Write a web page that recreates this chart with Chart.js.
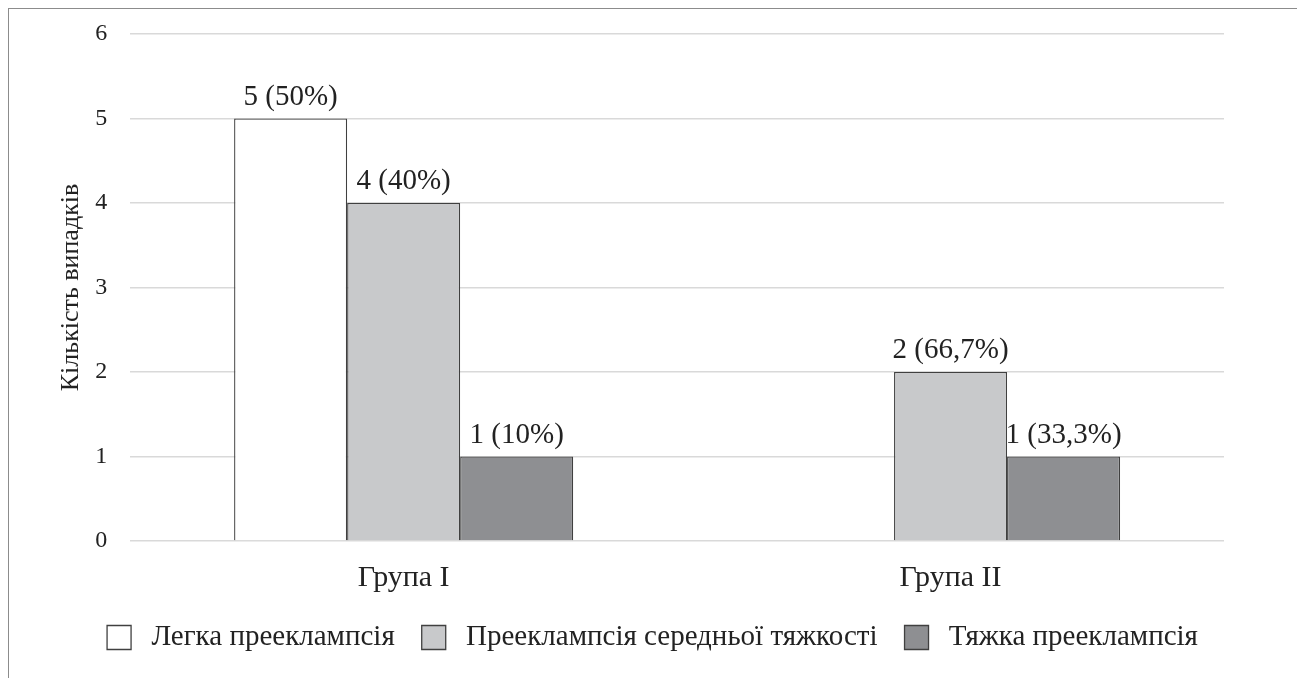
<!DOCTYPE html>
<html>
<head>
<meta charset="utf-8">
<script src="https://cdn.jsdelivr.net/npm/chart.js@4"></script>
<style>
  html, body { margin: 0; padding: 0; background: #fff; overflow: hidden; }
  #frame { position: absolute; left: 8px; top: 8px; width: 2000px; height: 2000px;
           border-left: 1.5px solid #8c8c8c; border-top: 1.5px solid #8c8c8c; }
  #wrap { position: absolute; left: 0; top: 0; width: 1297px; height: 678px; }
</style>
</head>
<body>
<div id="frame"></div>
<div id="wrap"><canvas id="c" width="1297" height="678"></canvas></div>
<script>
const categories = ["Група I", "Група II"];
const seriesNames = ["Легка прееклампсія", "Прееклампсія середньої тяжкості", "Тяжка прееклампсія"];
const mild = [5, 0];
const moderate = [4, 2];
const severe = [1, 1];
const mildLabels = ["5 (50%)", ""];
const moderateLabels = ["4 (40%)", "2 (66,7%)"];
const severeLabels = ["1 (10%)", "1 (33,3%)"];
const yTicks = [0, 1, 2, 3, 4, 5, 6];

const FONT = "'Liberation Serif', 'Times New Roman', serif";

const valueLabels = {
  id: 'valueLabels',
  afterDatasetsDraw(chart) {
    const ctx = chart.ctx;
    ctx.save();
    ctx.font = "29px " + FONT;
    ctx.fillStyle = '#222';
    ctx.textAlign = 'center';
    ctx.textBaseline = 'bottom';
    chart.data.datasets.forEach((ds, i) => {
      const meta = chart.getDatasetMeta(i);
      meta.data.forEach((bar, j) => {
        const t = ds.valueLabels[j];
        if (!t) return;
        ctx.fillText(t, bar.x, bar.y - 7);
      });
    });
    ctx.restore();
  }
};

new Chart(document.getElementById('c'), {
  type: 'bar',
  data: {
    labels: categories,
    datasets: [
      { label: seriesNames[0], data: mild, valueLabels: mildLabels, backgroundColor: '#ffffff', borderColor: '#404040', borderWidth: 1.3 },
      { label: seriesNames[1], data: moderate, valueLabels: moderateLabels, backgroundColor: '#c8c9cb', borderColor: '#404040', borderWidth: 1.3 },
      { label: seriesNames[2], data: severe, valueLabels: severeLabels, backgroundColor: '#8e8f92', borderColor: '#404040', borderWidth: 1.3 }
    ]
  },
  options: {
    responsive: false,
    animation: false,
    layout: { padding: { left: 8, right: 0, top: 34, bottom: 16 } },
    datasets: { bar: { categoryPercentage: 0.62, barPercentage: 1.0 } },
    plugins: {
      legend: {
        position: 'bottom',
        labels: {
          font: { family: FONT, size: 29 },
          color: '#222',
          boxWidth: 24, boxHeight: 24,
          padding: 27,
          generateLabels: (chart) => Chart.defaults.plugins.legend.labels.generateLabels(chart)
            .map(item => Object.assign(item, { text: '\u2009' + item.text }))
        }
      },
      tooltip: { enabled: false }
    },
    scales: {
      x: {
        grid: { display: false },
        border: { display: false },
        ticks: { font: { family: FONT, size: 30 }, color: '#222', padding: 11 },
        afterFit: (axis) => { axis.height -= 11; }
      },
      y: {
        min: 0, max: 6,
        afterBuildTicks: (axis) => { axis.ticks = yTicks.map(v => ({ value: v })); },
        afterFit: (axis) => { axis.paddingTop = 0; axis.paddingBottom = 0; },
        grid: { color: '#d9d9d9', lineWidth: 1.5, drawTicks: false },
        border: { display: false },
        ticks: { font: { family: FONT, size: 24 }, color: '#222', padding: 23 },
        title: { display: true, text: 'Кількість випадків', font: { family: FONT, size: 26 }, color: '#222', padding: { top: 48, bottom: -15 } }
      },
      yRight: {
        position: 'right',
        display: true,
        grid: { display: false, drawTicks: false },
        border: { display: false },
        ticks: { display: false },
        afterFit: (axis) => { axis.width = 73; axis.paddingTop = 0; axis.paddingBottom = 0; }
      }
    }
  },
  plugins: [valueLabels]
});
</script>
</body>
</html>
